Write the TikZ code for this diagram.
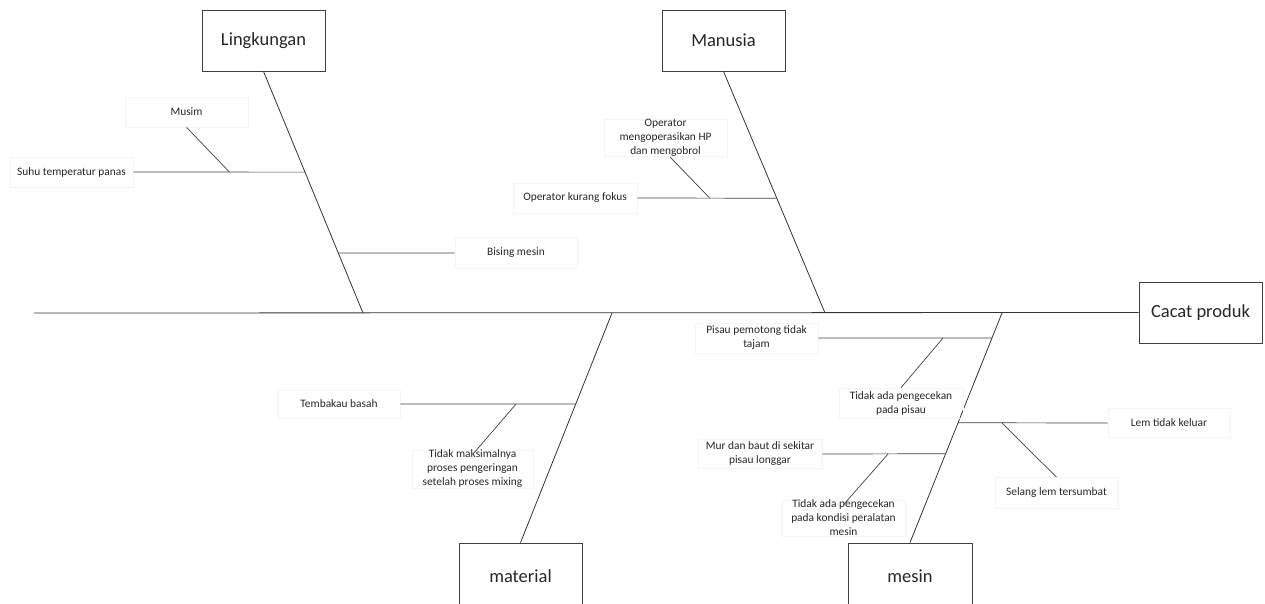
\documentclass[tikz,border=0pt]{standalone}
\usepackage{fontspec}
\setmainfont{Carlito}
\usetikzlibrary{calc}
\begin{document}
\begin{tikzpicture}[x=1pt,y=-1pt,
  bigbox/.style={draw=black!75, line width=0.8pt, minimum width=123pt, minimum height=61pt,
    inner sep=0pt, font=\fontsize{18.5}{22}\selectfont, text=black!85},
  lbl/.style={draw=black!4, line width=0.6pt, minimum width=123pt, minimum height=30pt,
    inner sep=0pt, align=center, font=\fontsize{11.4}{14}\selectfont, text=black!85},
  bone/.style={draw=black!80, line width=0.8pt},
  branch/.style={draw=black!75, line width=0.7pt}]
\clip (0,0) rectangle (1265,604);
\useasboundingbox (0,0) rectangle (1265,604);
% head and category boxes
\node[bigbox] (ling) at (263.5,40.5) {Lingkungan};
\node[bigbox] (manu) at (723.5,40.5) {Manusia};
\node[bigbox] (cacat) at (1200.5,312.5) {Cacat produk};
\node[bigbox, minimum height=66pt] (mat) at (520.5,576) {material};
\node[bigbox, minimum width=124pt, minimum height=66pt] (mes) at (910,576) {mesin};
% spine
\coordinate (tail) at (34,313);
\coordinate (sL) at (363,313);
\coordinate (sM) at (825,313);
\coordinate (sMat) at (612,313);
\coordinate (sMes) at (1002,313);
\draw[bone] (tail) -- (cacat.west);
\draw[bone] (ling.south) -- (sL);
\draw[bone] (manu.south) -- (sM);
\draw[bone] (mat.north) -- (sMat);
\draw[bone] (mes.north) -- (sMes);
% junctions on bones
\coordinate (jSuhu) at ($(ling.south)!0.417!(sL)$);
\coordinate (jBis) at ($(ling.south)!0.752!(sL)$);
\coordinate (jOkf) at ($(manu.south)!0.525!(sM)$);
\coordinate (jTemb) at ($(sMat)!0.396!(mat.north)$);
\coordinate (jPis) at ($(sMes)!0.109!(mes.north)$);
\coordinate (jLem) at ($(sMes)!0.478!(mes.north)$);
\coordinate (jMur) at ($(sMes)!0.613!(mes.north)$);
% labels
\node[lbl] (musim) at (186.5,112) {Musim};
\node[lbl] (suhu) at (71.5,172) {Suhu temperatur panas};
\node[lbl, minimum width=122pt, minimum height=31pt] (bis) at (516,253) {Bising mesin};
\node[lbl] (oper) at (665.5,138) {Operator\\mengoperasikan HP\\dan mengobrol};
\node[lbl, minimum width=124pt] (okf) at (575,198) {Operator kurang fokus};
\node[lbl, minimum width=122pt, minimum height=28pt] (temb) at (339,404) {Tembakau basah};
\node[lbl, minimum width=121pt] (tmaks) at (472.5,469) {Tidak maksimalnya\\proses pengeringan\\setelah proses mixing};
\node[lbl] (pis) at (756.5,338) {Pisau pemotong tidak\\tajam};
\node[lbl, minimum width=124pt] (tpis) at (901,403) {Tidak ada pengecekan\\pada pisau};
\node[lbl, minimum width=122pt, minimum height=29pt] (lem) at (1169,423) {Lem tidak keluar};
\node[lbl, minimum width=124pt, minimum height=29pt] (mur) at (760,454) {Mur dan baut di sekitar\\pisau longgar};
\node[lbl] (tkon) at (843.5,518) {Tidak ada pengecekan\\pada kondisi peralatan\\mesin};
\node[lbl, minimum height=31pt] (sel) at (1056.5,493) {Selang lem tersumbat};
% branches
\draw[branch] (suhu.east) -- (jSuhu);
\coordinate (kMusim) at ($(suhu.east)!0.56!(jSuhu)$);
\draw[branch] (musim.south) -- (kMusim);
\draw[branch] (jBis) -- (bis.west);
\draw[branch] (okf.east) -- (jOkf);
\coordinate (kOp) at ($(okf.east)!0.52!(jOkf)$);
\coordinate (oStart) at ($(oper.south)+(4.5,0)$);
\draw[branch] (oStart) -- (kOp);
\draw[branch] (temb.east) -- (jTemb);
\coordinate (kTemb) at ($(temb.east)!0.66!(jTemb)$);
\coordinate (tmStart) at ($(tmaks.north)+(2.5,2)$);
\draw[branch] (kTemb) -- (tmStart);
\draw[branch] (pis.east) -- (jPis);
\coordinate (kPis) at ($(pis.east)!0.718!(jPis)$);
\draw[branch] (kPis) -- (tpis.north);
\draw[branch] (jLem) -- (lem.west);
\coordinate (kLem) at ($(jLem)!0.293!(lem.west)$);
\draw[branch] (kLem) -- (sel.north);
\draw[branch] (mur.east) -- (jMur);
\coordinate (kMur) at ($(mur.east)!0.534!(jMur)$);
\coordinate (tkEnd) at ($(tkon.north)+(0,5)$);
\draw[branch] (kMur) -- (tkEnd);
\end{tikzpicture}
\end{document}
